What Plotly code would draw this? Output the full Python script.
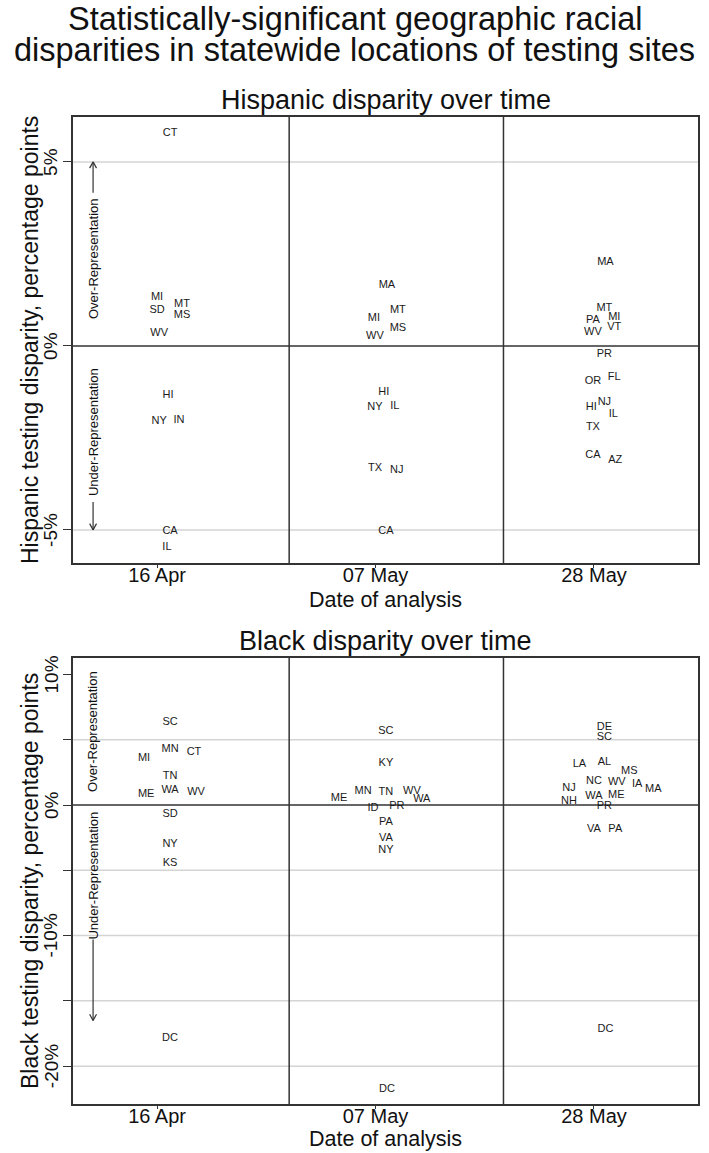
import plotly.graph_objects as go

# ---------------- data ----------------
date_labels = ["16 Apr", "07 May", "28 May"]
date_days = [0, 21, 42]          # days since 16 Apr

# Hispanic disparity (percentage points); x = days since 16 Apr (label jitter included)
hisp_states = ["CT", "MI", "SD", "MT", "MS", "WV", "HI", "NY", "IN", "CA", "IL",
               "MA", "MT", "MI", "MS", "WV", "HI", "NY", "IL", "TX", "NJ", "CA",
               "MA", "MT", "PA", "MI", "WV", "VT", "PR", "OR", "FL", "NJ", "HI", "IL", "TX", "CA", "AZ"]
hisp_x = [1.25, 0.0, 0.0, 2.4, 2.4, 0.2, 1.05, 0.2, 2.1, 1.25, 0.95,
          22.1, 23.15, 20.85, 23.15, 20.95, 21.8, 20.95, 22.85, 20.95, 23.05, 22.0,
          43.1, 43.0, 41.9, 43.95, 41.9, 43.95, 43.0, 41.9, 43.95, 43.0, 41.75, 43.85, 41.9, 41.9, 44.05]
hisp_y = [5.79, 1.33, 0.98, 1.14, 0.84, 0.33, -1.33, -2.04, -2.01, -5.03, -5.46,
          1.66, 0.98, 0.76, 0.49, 0.27, -1.25, -1.66, -1.65, -3.32, -3.37, -5.05,
          2.26, 1.03, 0.71, 0.79, 0.38, 0.52, -0.22, -0.95, -0.84, -1.52, -1.68, -1.85, -2.20, -2.96, -3.12]

# Black disparity (percentage points)
black_states = ["SC", "MN", "CT", "MI", "TN", "WA", "ME", "WV", "SD", "NY", "KS", "DC",
                "SC", "KY", "ME", "MN", "TN", "WV", "WA", "ID", "PR", "PA", "VA", "NY", "DC",
                "DE", "SC", "LA", "AL", "MS", "NC", "WV", "IA", "MA", "NJ", "WA", "ME", "NH", "PR", "VA", "PA", "DC"]
black_x = [1.25, 1.25, 3.55, -1.25, 1.25, 1.25, -1.05, 3.75, 1.25, 1.25, 1.25, 1.25,
           22.0, 22.0, 17.5, 19.8, 22.0, 24.5, 25.45, 20.75, 23.05, 22.0, 22.0, 22.0, 22.1,
           43.0, 43.0, 40.6, 43.0, 45.4, 42.0, 44.2, 46.15, 47.7, 39.6, 42.0, 44.15, 39.6, 43.0, 42.0, 44.05, 43.1]
black_y = [6.36, 4.29, 4.06, 3.60, 2.22, 1.15, 0.84, 1.00, -0.69, -2.99, -4.44, -17.9,
           5.67, 3.22, 0.54, 1.07, 1.00, 1.07, 0.46, -0.23, -0.08, -1.30, -2.53, -3.45, -21.76,
           5.98, 5.20, 3.14, 3.30, 2.61, 1.84, 1.76, 1.60, 1.23, 1.30, 0.69, 0.77, 0.31, -0.08, -1.84, -1.84, -17.2]

hisp_ticks = [-5, 0, 5]
hisp_ticktext = ["-5%", "0%", "5%"]
black_ticks = [-20, -15, -10, -5, 0, 5, 10]
black_ticktext = ["-20%", "", "-10%", "", "0%", "", "10%"]
hisp_grid = [-5, 5]
black_grid = [-20, -15, -10, -5, 5]
dividers = [12.7, 33.3]

# ---------------- layout constants ----------------
W, H = 709, 1153
FONT = "Liberation Sans, Arial, Helvetica, sans-serif"
DARK = "#333333"
GRID = "#d4d4d4"

def py(p):  # screen pixel row -> paper y
    return 1 - p / H

def pxx(p):  # screen pixel column -> paper x
    return p / W

xdom = [pxx(73), pxx(698)]
top_dom = [py(563), py(117)]
bot_dom = [py(1104), py(658)]
xrange_ = [-8.08, 52.0]

fig = go.Figure()
fig.add_trace(go.Scatter(x=hisp_x, y=hisp_y, text=hisp_states, mode="text",
                         textfont=dict(size=11, color="#1a1a1a", family=FONT),
                         xaxis="x", yaxis="y", hoverinfo="text", showlegend=False))
fig.add_trace(go.Scatter(x=black_x, y=black_y, text=black_states, mode="text",
                         textfont=dict(size=11, color="#1a1a1a", family=FONT),
                         xaxis="x2", yaxis="y2", hoverinfo="text", showlegend=False))

axis_common = dict(showgrid=False, zeroline=False, showline=True, mirror=True,
                   linecolor=DARK, linewidth=1.5, ticks="outside", tickcolor=DARK)
xfont = dict(size=20, color="#111", family=FONT)

fig.update_layout(
    width=W, height=H, margin=dict(l=0, r=0, t=0, b=0),
    paper_bgcolor="white", plot_bgcolor="white",
    font=dict(family=FONT, color="#111"),
    xaxis=dict(domain=xdom, range=xrange_, anchor="y", tickvals=date_days,
               ticktext=date_labels, ticklen=3, tickfont=xfont, ticklabelstandoff=-10, **axis_common),
    yaxis=dict(domain=top_dom, range=[-5.9, 6.22], anchor="x", tickvals=hisp_ticks,
               showticklabels=False, ticklen=8, **axis_common),
    xaxis2=dict(domain=xdom, range=xrange_, anchor="y2", tickvals=date_days,
                ticktext=date_labels, ticklen=3, tickfont=xfont, ticklabelstandoff=-10, **axis_common),
    yaxis2=dict(domain=bot_dom, range=[-22.9, 11.26], anchor="x2", tickvals=black_ticks,
                showticklabels=False, ticklen=8, **axis_common),
)

shapes = []
for xa, ya, grids in (("x", "y", hisp_grid), ("x2", "y2", black_grid)):
    for g in grids:
        shapes.append(dict(type="line", xref=f"{xa} domain", yref=ya, x0=0, x1=1, y0=g, y1=g,
                           line=dict(color=GRID, width=1.5), layer="below"))
    shapes.append(dict(type="line", xref=f"{xa} domain", yref=ya, x0=0, x1=1, y0=0, y1=0,
                       line=dict(color=DARK, width=1.5), layer="below"))
    for d in dividers:
        shapes.append(dict(type="line", xref=xa, yref=f"{ya} domain", x0=d, x1=d, y0=0, y1=1,
                           line=dict(color=DARK, width=1.5), layer="below"))

# representation arrows (shaft + open head)
ARX = -6.15
def arrow(xa, ya, y_from, y_to, head_dy):
    sgn = 1 if y_to > y_from else -1
    out = [dict(type="line", xref=xa, yref=ya, x0=ARX, x1=ARX, y0=y_from, y1=y_to,
                line=dict(color=DARK, width=1.2))]
    for dx in (-0.33, 0.33):
        out.append(dict(type="line", xref=xa, yref=ya, x0=ARX, x1=ARX + dx,
                        y0=y_to, y1=y_to - sgn * head_dy, line=dict(color=DARK, width=1.2)))
    return out

shapes += arrow("x", "y", 4.16, 5.0, 0.17)
shapes += arrow("x", "y", -4.24, -5.0, 0.17)
shapes += arrow("x2", "y2", -10.3, -16.5, 0.47)
fig.update_layout(shapes=shapes)

ann = []
def txt(t, x, y, size, **kw):
    d = dict(text=t, x=x, y=y, xref="paper", yref="paper", showarrow=False,
             font=dict(size=size, color="#111"), xanchor="center", yanchor="middle")
    d.update(kw)
    ann.append(d)

xc = (xdom[0] + xdom[1]) / 2
txt("Statistically-significant geographic racial", pxx(354.5), py(19), 32.5)
txt("disparities in statewide locations of testing sites", pxx(354.5), py(50), 32.5)
txt("Hispanic disparity over time", xc, py(100), 27)
txt("Black disparity over time", xc, py(641), 27)
txt("Date of analysis", xc, py(600), 21.5)
txt("Date of analysis", xc, py(1139), 21.5)
txt("Hispanic testing disparity, percentage points", pxx(30), (top_dom[0] + top_dom[1]) / 2, 23,
    textangle=-90)
txt("Black testing disparity, percentage points", pxx(30), (bot_dom[0] + bot_dom[1]) / 2, 23,
    textangle=-90)

# rotated y tick labels
for ya, vals, labels in (("y", hisp_ticks, hisp_ticktext), ("y2", black_ticks, black_ticktext)):
    for v, lab in zip(vals, labels):
        if lab:
            ann.append(dict(text=lab, x=pxx(51), y=v, xref="paper", yref=ya, textangle=-90,
                            showarrow=False, xanchor="center", yanchor="middle",
                            font=dict(size=19, color="#111")))

for xa, ya, yv, t in (("x", "y", 2.36, "Over-Representation"), ("x", "y", -2.34, "Under-Representation"),
                      ("x2", "y2", 5.6, "Over-Representation"), ("x2", "y2", -5.4, "Under-Representation")):
    ann.append(dict(text=t, x=ARX, y=yv, xref=xa, yref=ya, textangle=-90, showarrow=False,
                    font=dict(size=13, color="#111")))
fig.update_layout(annotations=ann)

fig.write_html("out.html",
               config=dict(displayModeBar=False),
               post_script="document.body.style.margin='0';"
                           "document.documentElement.style.overflow='hidden';"
                           "window.scrollTo(0,0);")
